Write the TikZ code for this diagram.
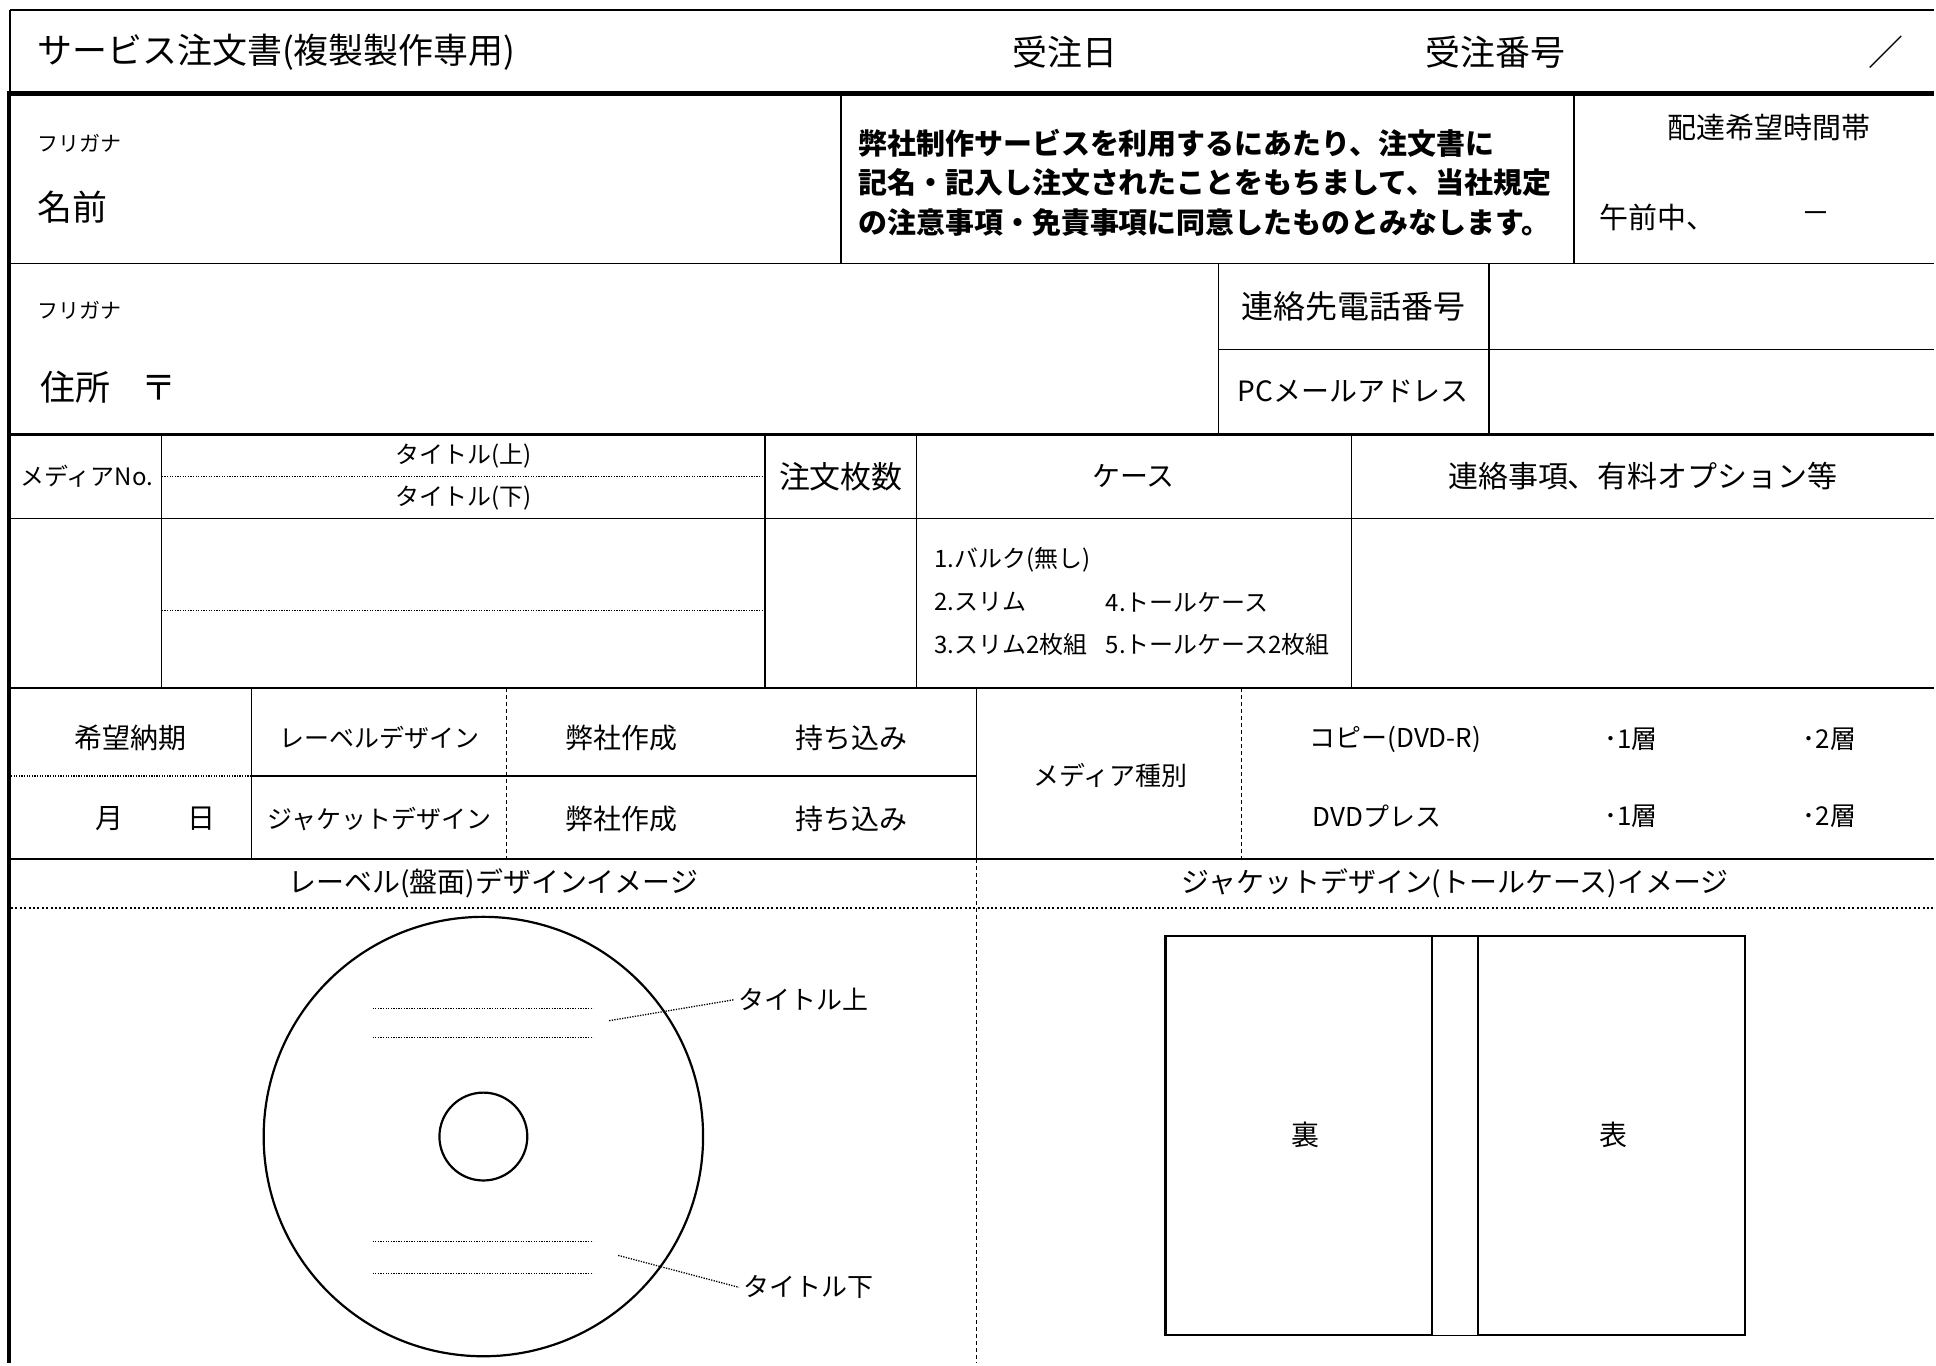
\documentclass[tikz,border=0pt]{standalone}
\usepackage{fontspec}
\setmainfont{Noto Sans CJK JP}
\usetikzlibrary{positioning}
\tikzset{
    fs/.style={inner sep=0pt,font=\fontsize{#1}{#1}\selectfont},
    notebox/.style={inner sep=0pt,align=left,font=\fontsize{14.5pt}{19.75pt}\selectfont\bfseries},
    cellrule/.style={line width=0.6pt},
    dotrule/.style={line width=0.65pt,dash pattern=on 0.65pt off 0.65pt},
    dashrule/.style={line width=0.45pt,dash pattern=on 2pt off 1.5pt},
    bigdots/.style={line width=1pt,dash pattern=on 1pt off 1.2pt},
}
\begin{document}
\begin{tikzpicture}[x={(0.5pt,0pt)},y={(0pt,-0.5pt)}]
    \fill[white] (0,0) rectangle (1936,1365);
    % frame
    \draw[cellrule] (10,10) -- (1936,10);
    \draw[cellrule] (10,10) -- (10,94);
    \draw[line width=2.5pt] (7,94) -- (1936,94);
    \draw[line width=2pt] (9,93) -- (9,1365);
    % rows
    \foreach \y/\w in {264/0.8pt,435/1.2pt,519/0.8pt,689/0.8pt,860/0.8pt}
        \draw[line width=\w] (9,\y) -- (1936,\y);
    % columns
    \foreach \x/\ya/\yb in {842/94/264,1576/94/264,1220/264/435,1491/264/435,
        162/435/689,766/435/689,918/435/689,1353/435/689,
        252/689/860,978/689/860}
        \draw[cellrule] (\x,\ya) -- (\x,\yb);
    \draw[cellrule] (1220,350) -- (1936,350);
    \draw[cellrule] (252,777) -- (978,777);
    \foreach \x/\ya/\yb in {507/689/860,1243/689/860,978/860/1365}
        \draw[dashrule] (\x,\ya) -- (\x,\yb);
    \foreach \xa/\xb/\y in {162/766/477,162/766/611,11/252/777}
        \draw[dotrule] (\xa,\y) -- (\xb,\y);
    \draw[bigdots] (11,909) -- (1936,909);

    % title row
    \node[fs=17.5pt,anchor=west] (title) at (37,52) {サービス注文書(複製製作専用)};
    \node[fs=17.5pt] (recvdate) at (1066,52) {受注日};
    \node[fs=17.5pt] (recvno) at (1497,52) {受注番号};
    \node[fs=17.5pt] (slash) at (1888,52) {／};
    % name
    \node[fs=10.5pt,anchor=west] (kana1) at (37,143) {フリガナ};
    \node[fs=17.5pt,anchor=west] (name) at (37,207) {名前};
    \node[notebox,anchor=west] (notice) at (859,183)
        {弊社制作サービスを利用するにあたり、注文書に\\記名・記入し注文されたことをもちまして、当社規定\\の注意事項・免責事項に同意したものとみなします。};
    \node[fs=14.5pt] (deliv) at (1771,128) {配達希望時間帯};
    \node[fs=14.5pt,anchor=west] (am) at (1601,218) {午前中、};
    \node[fs=14.5pt] (dash) at (1818,218) {－};
    % address
    \node[fs=10.5pt,anchor=west] (kana2) at (37,311) {フリガナ};
    \node[fs=17.5pt,anchor=west] (addr) at (40,388) {住所};
    \node[fs=17.5pt,right=15pt of addr] (zip) {〒};
    \node[fs=16pt] (tel) at (1355,307) {連絡先電話番号};
    \node[fs=14pt] (mail) at (1355,392) {PCメールアドレス};
    % media header
    \node[fs=12pt] (mediano) at (87,477) {メディアNo.};
    \node[fs=12pt] (ttlhi) at (464,457) {タイトル(上)};
    \node[fs=12pt] (ttllo) at (464,499) {タイトル(下)};
    \node[fs=15.5pt] (qty) at (842,477) {注文枚数};
    \node[fs=14pt] (case) at (1135,477) {ケース};
    \node[fs=15pt] (memo) at (1645,477) {連絡事項、有料オプション等};
    % case options
    \node[fs=12pt,anchor=west] (opt1) at (935,560) {1.バルク(無し)};
    \node[fs=12pt,anchor=west] (opt2) at (935,603) {2.スリム};
    \node[fs=12pt,anchor=west] (opt3) at (935,645) {3.スリム2枚組};
    \node[fs=12pt,anchor=west] (opt4) at (1107,603) {4.トールケース};
    \node[fs=12pt,anchor=west] (opt5) at (1107,645) {5.トールケース2枚組};
    % delivery, design, media
    \node[fs=14pt] (due) at (131,739) {希望納期};
    \node[fs=14pt] (month) at (110,820) {月};
    \node[fs=14pt] (day) at (202,820) {日};
    \node[fs=12.5pt] (lbldes) at (380,739) {レーベルデザイン};
    \node[fs=12.5pt] (jktdes) at (380,820) {ジャケットデザイン};
    \node[fs=14pt] (own1) at (622,739) {弊社作成};
    \node[fs=14pt] (own2) at (622,820) {弊社作成};
    \node[fs=14pt] (bring1) at (853,739) {持ち込み};
    \node[fs=14pt] (bring2) at (853,820) {持ち込み};
    \node[fs=13pt] (mtype) at (1112,776) {メディア種別};
    \node[fs=13pt,anchor=west] (copy) at (1311,740) {コピー(DVD-R)};
    \node[fs=13pt,anchor=west] (press) at (1314,817) {DVDプレス};
    \node[fs=13pt] (cp1) at (1633,740) {･1層};
    \node[fs=13pt] (cp2) at (1832,740) {･2層};
    \node[fs=13pt] (pr1) at (1633,817) {･1層};
    \node[fs=13pt] (pr2) at (1832,817) {･2層};
    % image headers
    \node[fs=14pt] (discimg) at (494,884) {レーベル(盤面)デザインイメージ};
    \node[fs=14pt] (jktimg) at (1457,884) {ジャケットデザイン(トールケース)イメージ};

    % disc
    \draw[line width=1.1pt] (484,1138) circle[radius=220];
    \draw[line width=1.1pt] (484,1138) circle[radius=44];
    \foreach \y in {1010,1039,1243,1275}
        \draw[dotrule] (373,\y) -- (594,\y);
    \coordinate (upmark) at (610,1022);
    \coordinate (lowmark) at (619,1257);
    \node[fs=13pt,inner sep=2pt,anchor=west] (ttlup) at (735,1001) {タイトル上};
    \node[fs=13pt,inner sep=2pt,anchor=west] (ttldown) at (740,1289) {タイトル下};
    \draw[dotrule] (upmark) -- (ttlup.west);
    \draw[dotrule] (lowmark) -- (ttldown.west);

    % jacket
    \draw[line width=1.2pt] (1167,937) rectangle (1434,1337);
    \draw[line width=0.8pt] (1434,937) rectangle (1480,1337);
    \draw[line width=1.2pt] (1480,937) rectangle (1747,1337);
    \node[fs=14pt] (back) at (1307,1136) {裏};
    \node[fs=14pt] (front) at (1616,1136) {表};
\end{tikzpicture}
\end{document}
